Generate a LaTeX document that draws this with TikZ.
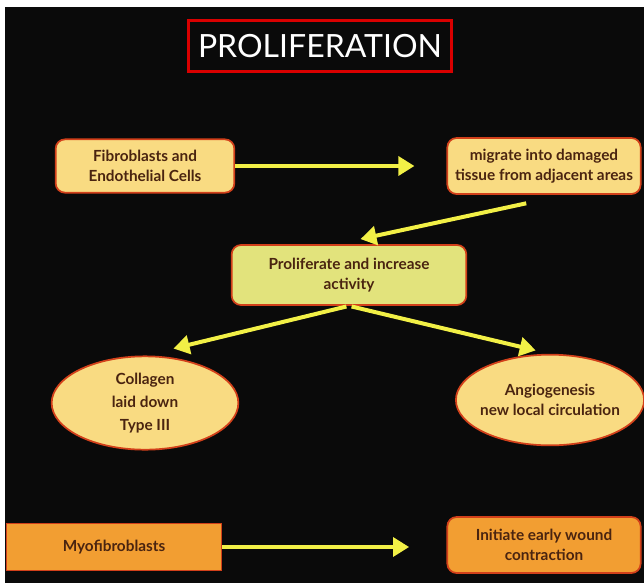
\documentclass[tikz,border=0pt]{standalone}
\usepackage{fontspec}
\setmainfont{Lato}
\usetikzlibrary{arrows.meta,shapes.geometric}

\definecolor{bgblack}{HTML}{0A0A0A}
\definecolor{cellfill}{HTML}{F9DB82}
\definecolor{stepfill}{HTML}{E2E37C}
\definecolor{myofill}{HTML}{F29E32}
\definecolor{edgered}{HTML}{D2401A}
\definecolor{inkbrown}{HTML}{4A2410}
\definecolor{flowyellow}{HTML}{F2F046}

\begin{document}
\begin{tikzpicture}[
        x=0.75pt, y=-0.75pt,
        every node/.style={text=inkbrown, align=center, font=\fontsize{11.5}{15}\selectfont\bfseries},
        cellbox/.style={rectangle, rounded corners=7pt, draw=edgered, line width=1.3pt, fill=cellfill, minimum width=134pt, minimum height=40pt, inner xsep=2pt},
        stepbox/.style={cellbox, fill=stepfill, minimum width=176pt, minimum height=45pt},
        oval/.style={ellipse, draw=edgered, line width=1.3pt, fill=cellfill, minimum width=140pt, minimum height=70pt, inner sep=0pt},
        myobox/.style={rectangle, draw=edgered, line width=1pt, fill=myofill, minimum width=161pt, minimum height=35pt},
        titlebox/.style={rectangle, draw=red!85!black, line width=2pt, fill=bgblack, text=white, font=\fontsize{24}{26}\selectfont, minimum width=197pt, minimum height=38pt},
        flow/.style={draw=flowyellow, line width=3pt, -{Triangle[width=14pt,length=12pt]}}
    ]
    \useasboundingbox (0,0) rectangle (644,583);
    \fill[white] (0,0) rectangle (644,583);
    \fill[bgblack] (5,7) rectangle (644,583);

    \node[titlebox] (title) at (320,46) {PROLIFERATION};

    % first row
    \node[cellbox] (fibro) at (145,166) {Fibroblasts and\\Endothelial Cells};
    \node[cellbox, minimum width=145pt, minimum height=42pt] (migrate) at (544,166) {migrate into damaged\\tissue from adjacent areas};

    % middle
    \node[stepbox] (prolif) at (349,275) {Proliferate and increase\\activity};

    \node[oval, font=\fontsize{11.5}{17.5}\selectfont\bfseries] (collagen) at (145,403) {Collagen\\laid down\\Type III};
    \node[oval, minimum width=138pt, minimum height=68pt, inner xsep=-2.5pt] (angio) at (550,400) {Angiogenesis\\new local circulation};

    % bottom row
    \node[myobox] (myo) at (114,547) {Myofibroblasts};
    \node[cellbox, fill=myofill, minimum width=145pt, minimum height=42pt] (initiate) at (544,545) {Initiate early wound\\contraction};

    \draw[flow, shorten >=24pt] (fibro) -- (migrate);
    \draw[flow, shorten <=30pt, shorten >=18pt] ([xshift=16pt]migrate.south) -- ([xshift=-9pt]prolif.north);
    \draw[flow, shorten <=2pt, shorten >=22pt] (prolif.south) -- (collagen.north);
    \draw[flow, shorten <=2pt, shorten >=11pt] (prolif.south) -- (angio.north);
    \draw[flow, shorten >=28pt] (myo.east) -- (myo.east -| initiate.west);
\end{tikzpicture}
\end{document}
